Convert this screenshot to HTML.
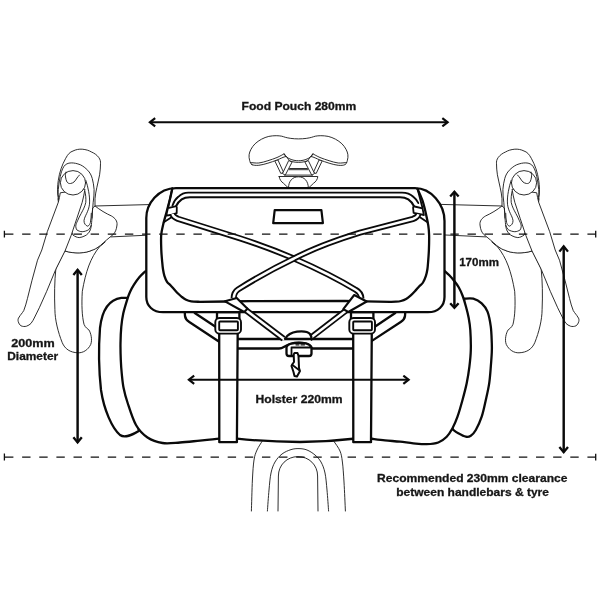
<!DOCTYPE html>
<html lang="en">
<head>
<meta charset="utf-8">
<title>Handlebar bag dimensions</title>
<style>
html,body{margin:0;padding:0;background:#fff;}
body{width:600px;height:600px;overflow:hidden;}
svg{display:block;will-change:transform;opacity:0.999;}
text{font-family:"Liberation Sans",sans-serif;font-weight:bold;fill:#161616;stroke:#161616;stroke-width:0.28;}
.k{fill:none;stroke:#0a0a0a;stroke-width:2.3;stroke-linecap:round;stroke-linejoin:round;}
.kw{fill:#fff;stroke:#0a0a0a;stroke-width:2.3;stroke-linecap:round;stroke-linejoin:round;}
.m{fill:none;stroke:#0a0a0a;stroke-width:1.8;stroke-linecap:round;stroke-linejoin:round;}
.mw{fill:#fff;stroke:#0a0a0a;stroke-width:1.8;stroke-linecap:round;stroke-linejoin:round;}
.t{fill:none;stroke:#1c1c1c;stroke-width:0.92;stroke-linecap:round;stroke-linejoin:round;}
.tw{fill:#fff;stroke:#1c1c1c;stroke-width:0.92;stroke-linecap:round;stroke-linejoin:round;}
.a{fill:none;stroke:#0a0a0a;stroke-width:2.35;stroke-linecap:butt;stroke-linejoin:miter;stroke-miterlimit:10;}
.ah{stroke-width:2.3;}
.d{fill:none;stroke:#111;stroke-width:1.45;stroke-dasharray:8.4 8.73;}
.co{fill:none;stroke:#0a0a0a;stroke-width:6.1;stroke-linecap:butt;stroke-linejoin:round;}
.ci{fill:none;stroke:#fff;stroke-width:2.5;stroke-linecap:butt;stroke-linejoin:round;}
</style>
</head>
<body>
<svg width="600" height="600" viewBox="0 0 600 600">
<rect width="600" height="600" fill="#fff"/>

<!-- FORK -->
<g id="fork" class="t">
<path d="M262 441.5 C261.17 442.92 258.33 446.92 257 450 C255.67 453.08 254.77 455.00 254 460 C253.23 465.00 252.83 471.50 252.4 480 C251.97 488.50 251.57 505.83 251.4 511"/>
<path d="M334 441.5 C335.00 443.08 338.60 447.58 340 451 C341.40 454.42 341.73 456.83 342.4 462 C343.07 467.17 343.50 473.83 344 482 C344.50 490.17 345.17 506.17 345.4 511"/>
<path d="M267.4 511 C267.67 507.50 268.40 496.33 269 490 C269.60 483.67 270.00 477.67 271 473 C272.00 468.33 273.17 465.17 275 462 C276.83 458.83 279.33 456.07 282 454 C284.67 451.93 288.17 450.50 291 449.6 C293.83 448.70 296.33 448.53 299 448.6 C301.67 448.67 304.33 448.93 307 450 C309.67 451.07 312.67 453.00 315 455 C317.33 457.00 319.33 459.00 321 462 C322.67 465.00 324.00 468.33 325 473 C326.00 477.67 326.40 483.67 327 490 C327.60 496.33 328.33 507.50 328.6 511"/>
<path d="M278 511 L278.400 476 C278.400 465 287 456.600 298 456.600 C309 456.600 317.600 465 317.600 476 L318 511"/>
</g>
<!-- LEVERS -->
<g id="leverL">
<path class="t" d="M95 206 L160 204.300 M111 236.900 L160 234.600"/>
<!-- drop bar -->
<path class="tw" d="M65 251 C72 253 84 254 92.500 250 C99 247 103 244 105.300 241.800 L99.800 246.400 C90.200 258 85.700 272 82.300 291.300 C81.500 305 82 316 84 324.300 C85.500 328 88 329 88.800 329.800 C91 333 92.500 340 90.700 344.500 C88 350 83 353 78 352.800 C70 352.500 65 349 62.250 342.700 C58 332 55 320 54.900 309.700 C54.300 295 54.500 282 55.800 269.300 Z"/>
<!-- hood body -->
<path class="tw" d="M95 206 C100 210 106 213.500 111.500 216 C115 218 117.500 221 117 225 C116.500 230 115 232.500 113.300 234.400 C109 238 104 242 100.500 245.400 C97 248 94 250 92.500 250 C86 253.500 74 254 65 251 L58 199 Z"/>
<!-- outer hood -->
<path class="tw" d="M58.300 198.700 C57 192 57.500 186 58.300 180.300 C59.500 172 62 165 65.700 158.300 C68 154 70 152 73 151 C76 149.500 79 149 82.200 149.200 C86 149.500 89 150.500 91.300 151.900 C94 153 97 155 98.700 157.400 C100.300 159.500 100.700 161.500 100.500 163.800 C100.500 167 100.200 171 99.600 174.800 C98.800 179 97.800 183 96.800 187.700 C96 191 95.300 195 95 198.700 L95 206 L92.600 208 L92 218 C91.500 225 91 228 90.300 230 C89 233 87 234.800 85 235.800 C83 236.800 81 237.500 79.200 237.600 C77 237.500 75 236.500 73.300 235.300 Z"/>
<path class="t" d="M59.250 200.500 C58 196 58 193 58.300 189.500 C58.600 185 59.300 181 60.200 176.700 C61 173 62 169.500 63.800 166.600 C65.500 164 68 163 71.200 162.900 C74 162.800 77 163.500 80.300 164.750 C83 166 85.500 168 87.700 170.250 C89.800 172.500 91.300 175 92.250 178.500 C93.200 182 93.800 185.500 94.100 189.500 C94.200 194 93.800 198 93.200 202.300 C92.900 206 92.600 209.500 92.250 213.300 L92 218"/>
<path class="t" d="M85.800 180.300 C87 184 88 187.500 88.600 191.300 C89.500 196 89.800 200 89.500 204.200 C89 208 88 210.500 86.750 213.300 C85.500 216 84.300 218 84 220.700 C84 223.500 85.500 225.500 87.700 226.200 C89.300 225.500 90 224 90.400 222.500 C91 219.500 91.200 216.500 91.300 213.300"/>
<path class="t" d="M84.900 191.300 C85.800 195 86 198.500 85.800 202.300 C85 206.500 83 210 81.250 213.300 C79.800 216 78.500 218.300 77.600 220.700 C76.500 223 75.800 224.500 75.750 226.200 C75.800 227.500 76.200 228.800 76.700 229.800 C78.500 231 80.300 231.700 82.200 231.700 C84.500 231.600 86.800 230.800 88.600 229.800 C89.800 228.500 90.700 227 91.300 225.250"/>
<!-- lever blade -->
<path class="tw" d="M60.200 193.200 C59.800 196 59.200 199 58.300 202.300 L52.800 217 L47.300 231.700 L41.800 250 L37.500 260.200 L32 280.300 L27.400 298.700 C26.300 303 25.200 307 23.750 310.600 C22 313.500 20.300 315 19.200 317 C18 318.500 17.800 320 18.250 321.600 C18.800 323.500 19.700 325 21 325.800 C22.800 326.600 24.700 326.700 26.500 326.200 C28.300 325.600 29.800 324.600 31 323.400 C32.500 321.500 33.700 319.300 34.750 317 L39.300 307.800 L46.700 291.300 L55.800 269.300 L65 251 L71.200 235.300 L76.700 218.800 L82.200 202.300 C83.300 198 84.200 194 84.900 189.500 Z"/>
<ellipse class="tw" cx="73" cy="182.800" rx="12.600" ry="12.200"/>
<path class="t" d="M66 172 C65.400 174 65.300 175.500 65.500 177 C65.800 179 66.300 180.700 67 182 C68 183.300 69.200 183.700 70.500 183.500 C71.800 183.300 73 182.800 74 182 C75.200 180.800 76.200 179.400 77 178 C77.800 177 78.700 175.800 79.500 175"/>
</g>
<g id="leverR" transform="translate(597,0) scale(-1,1)">
<path class="t" d="M95 206 L160 204.300 M111 236.900 L160 234.600"/>
<!-- drop bar -->
<path class="tw" d="M65 251 C72 253 84 254 92.500 250 C99 247 103 244 105.300 241.800 L99.800 246.400 C90.200 258 85.700 272 82.300 291.300 C81.500 305 82 316 84 324.300 C85.500 328 88 329 88.800 329.800 C91 333 92.500 340 90.700 344.500 C88 350 83 353 78 352.800 C70 352.500 65 349 62.250 342.700 C58 332 55 320 54.900 309.700 C54.300 295 54.500 282 55.800 269.300 Z"/>
<!-- hood body -->
<path class="tw" d="M95 206 C100 210 106 213.500 111.500 216 C115 218 117.500 221 117 225 C116.500 230 115 232.500 113.300 234.400 C109 238 104 242 100.500 245.400 C97 248 94 250 92.500 250 C86 253.500 74 254 65 251 L58 199 Z"/>
<!-- outer hood -->
<path class="tw" d="M58.300 198.700 C57 192 57.500 186 58.300 180.300 C59.500 172 62 165 65.700 158.300 C68 154 70 152 73 151 C76 149.500 79 149 82.200 149.200 C86 149.500 89 150.500 91.300 151.900 C94 153 97 155 98.700 157.400 C100.300 159.500 100.700 161.500 100.500 163.800 C100.500 167 100.200 171 99.600 174.800 C98.800 179 97.800 183 96.800 187.700 C96 191 95.300 195 95 198.700 L95 206 L92.600 208 L92 218 C91.500 225 91 228 90.300 230 C89 233 87 234.800 85 235.800 C83 236.800 81 237.500 79.200 237.600 C77 237.500 75 236.500 73.300 235.300 Z"/>
<path class="t" d="M59.250 200.500 C58 196 58 193 58.300 189.500 C58.600 185 59.300 181 60.200 176.700 C61 173 62 169.500 63.800 166.600 C65.500 164 68 163 71.200 162.900 C74 162.800 77 163.500 80.300 164.750 C83 166 85.500 168 87.700 170.250 C89.800 172.500 91.300 175 92.250 178.500 C93.200 182 93.800 185.500 94.100 189.500 C94.200 194 93.800 198 93.200 202.300 C92.900 206 92.600 209.500 92.250 213.300 L92 218"/>
<path class="t" d="M85.800 180.300 C87 184 88 187.500 88.600 191.300 C89.500 196 89.800 200 89.500 204.200 C89 208 88 210.500 86.750 213.300 C85.500 216 84.300 218 84 220.700 C84 223.500 85.500 225.500 87.700 226.200 C89.300 225.500 90 224 90.400 222.500 C91 219.500 91.200 216.500 91.300 213.300"/>
<path class="t" d="M84.900 191.300 C85.800 195 86 198.500 85.800 202.300 C85 206.500 83 210 81.250 213.300 C79.800 216 78.500 218.300 77.600 220.700 C76.500 223 75.800 224.500 75.750 226.200 C75.800 227.500 76.200 228.800 76.700 229.800 C78.500 231 80.300 231.700 82.200 231.700 C84.500 231.600 86.800 230.800 88.600 229.800 C89.800 228.500 90.700 227 91.300 225.250"/>
<!-- lever blade -->
<path class="tw" d="M60.200 193.200 C59.800 196 59.200 199 58.300 202.300 L52.800 217 L47.300 231.700 L41.800 250 L37.500 260.200 L32 280.300 L27.400 298.700 C26.300 303 25.200 307 23.750 310.600 C22 313.500 20.300 315 19.200 317 C18 318.500 17.800 320 18.250 321.600 C18.800 323.500 19.700 325 21 325.800 C22.800 326.600 24.700 326.700 26.500 326.200 C28.300 325.600 29.800 324.600 31 323.400 C32.500 321.500 33.700 319.300 34.750 317 L39.300 307.800 L46.700 291.300 L55.800 269.300 L65 251 L71.200 235.300 L76.700 218.800 L82.200 202.300 C83.300 198 84.200 194 84.900 189.500 Z"/>
<ellipse class="tw" cx="73" cy="182.800" rx="12.600" ry="12.200"/>
<path class="t" d="M66 172 C65.400 174 65.300 175.500 65.500 177 C65.800 179 66.300 180.700 67 182 C68 183.300 69.200 183.700 70.500 183.500 C71.800 183.300 73 182.800 74 182 C75.200 180.800 76.200 179.400 77 178 C77.800 177 78.700 175.800 79.500 175"/>
</g>

<!-- SADDLE -->
<g id="saddle" class="t">
<path class="tw" d="M279.200 176.500 L317.800 176.500 C317.500 179.500 316 181.500 313.400 183.400 C311.500 185.200 310.200 186.500 309 187.500 L288 187.500 C286.800 186.500 285.500 185.200 283.600 183.400 C281 181.500 279.500 179.500 279.200 176.500 Z"/>
<path class="tw" d="M288.500 187.600 C288.600 181 292.500 176.800 298.400 176.800 C304.300 176.800 308.200 181 308.350 187.600 Z"/>
<path d="M289.600 168.500 H307.400 M289.200 169.700 H307.800 M284.500 175.100 H312.500"/>
<path class="tw" d="M274.800 160.850 L280.850 173.500 L283.600 172.400 L278.100 160.300 Z M322.200 160.850 L316.150 173.500 L313.400 172.400 L318.900 160.300 Z"/>
<path class="tw" d="M288.550 160.850 L282.500 173.500 L285.250 175.150 L291.850 162.500 Z M308.450 160.850 L314.500 173.500 L311.750 175.150 L305.150 162.500 Z"/>
<path class="tw" d="M251.9 164.6 C250.38 163.76 250.07 161.89 249.6 160.25 C249.13 158.61 248.87 156.58 249.1 154.75 C249.33 152.92 250.00 151.08 251 149.25 C252.00 147.42 253.35 145.43 255.1 143.75 C256.85 142.07 259.22 140.42 261.5 139.2 C263.78 137.97 266.35 136.98 268.8 136.4 C271.25 135.82 274.05 135.73 276.2 135.7 C278.35 135.67 280.18 135.93 281.7 136.2 C283.22 136.47 283.78 136.93 285.3 137.3 C286.82 137.67 288.60 138.13 290.8 138.4 C293.00 138.67 295.93 138.90 298.5 138.9 C301.07 138.90 304.00 138.67 306.2 138.4 C308.40 138.13 310.18 137.67 311.7 137.3 C313.22 136.93 313.78 136.47 315.3 136.2 C316.82 135.93 318.65 135.67 320.8 135.7 C322.95 135.73 325.75 135.82 328.2 136.4 C330.65 136.98 333.22 137.97 335.5 139.2 C337.78 140.42 340.15 142.07 341.9 143.75 C343.65 145.43 345.00 147.42 346 149.25 C347.00 151.08 347.67 152.92 347.9 154.75 C348.13 156.58 347.87 158.61 347.4 160.25 C346.93 161.89 346.62 163.76 345.1 164.6 C343.58 165.44 340.92 165.53 338.25 165.3 C335.58 165.07 332.14 164.08 329.1 163.2 C326.06 162.32 322.98 161.10 320 160 C317.02 158.90 313.12 156.65 311.2 156.6 C309.28 156.55 309.53 158.87 308.5 159.7 C307.47 160.53 306.67 161.15 305 161.6 C303.33 162.05 300.67 162.40 298.5 162.4 C296.33 162.40 293.67 162.05 292 161.6 C290.33 161.15 289.53 160.53 288.5 159.7 C287.47 158.87 287.72 156.55 285.8 156.6 C283.88 156.65 279.98 158.90 277 160 C274.02 161.10 270.94 162.32 267.9 163.2 C264.86 164.08 261.42 165.07 258.75 165.3 C256.08 165.53 253.43 165.44 251.9 164.6 Z"/>
<path d="M250.5 162.5 C251.88 162.58 255.85 163.30 258.75 163 C261.65 162.70 264.86 161.62 267.9 160.7 C270.94 159.78 274.28 158.65 277 157.5 C279.72 156.35 283.00 154.42 284.2 153.8 L285.8 156.6"/>
<path d="M346.5 162.5 C345.12 162.58 341.15 163.30 338.25 163 C335.35 162.70 332.14 161.62 329.1 160.7 C326.06 159.78 322.72 158.65 320 157.5 C317.28 156.35 314.00 154.42 312.8 153.8 L311.2 156.6"/>
<path d="M284.2 153.8 C284.58 154.33 285.53 156.13 286.5 157 C287.47 157.87 288.75 158.45 290 159 C291.25 159.55 292.58 160.01 294 160.3 C295.42 160.59 297.00 160.75 298.5 160.75 C300.00 160.75 301.58 160.59 303 160.3 C304.42 160.01 305.75 159.55 307 159 C308.25 158.45 309.53 157.87 310.5 157 C311.47 156.13 312.42 154.33 312.8 153.8"/>
</g>

<!-- HOLSTER / DRY BAG -->
<g id="holster">
<path class="kw" d="M128 297.800 L121.300 297.800 C109 299.500 102 310 100 328 C98.500 348 99 372 101 390 C104 410 112 428 120 435 C125 438.500 132 435 138.750 431 Z"/>
<path class="kw" d="M464.2 298.7 C465.72 298.70 470.38 297.93 473.3 298.7 C476.22 299.47 479.33 301.13 481.7 303.3 C484.07 305.47 485.98 307.80 487.5 311.7 C489.02 315.60 490.08 321.43 490.8 326.7 C491.52 331.97 491.63 339.08 491.8 343.3 C491.97 347.52 491.97 348.10 491.8 352 C491.63 355.90 491.23 361.48 490.8 366.7 C490.37 371.92 490.03 377.75 489.2 383.3 C488.37 388.85 487.05 394.43 485.8 400 C484.55 405.57 483.37 411.70 481.7 416.7 C480.03 421.70 477.62 426.82 475.8 430 C473.98 433.18 472.47 434.68 470.8 435.8 C469.13 436.92 467.88 437.12 465.8 436.7 C463.72 436.28 460.52 434.55 458.3 433.3 C456.08 432.05 453.47 429.88 452.5 429.2 Z"/>
<path class="kw" d="M145.3 271.3 C144.30 272.30 141.18 275.07 139.3 277.3 C137.42 279.53 135.55 282.25 134 284.7 C132.45 287.15 131.12 289.57 130 292 C128.88 294.43 128.42 295.75 127.3 299.3 C126.18 302.85 124.30 308.73 123.3 313.3 C122.30 317.87 121.77 321.70 121.3 326.7 C120.83 331.70 120.58 337.75 120.5 343.3 C120.42 348.85 120.58 354.88 120.8 360 C121.02 365.12 121.33 369.33 121.8 374 C122.27 378.67 122.65 383.25 123.6 388 C124.55 392.75 125.43 396.33 127.5 402.5 C129.57 408.67 132.67 419.17 136 425 C139.33 430.83 143.08 434.50 147.5 437.5 C151.92 440.50 157.08 442.17 162.5 443 C167.92 443.83 173.75 442.90 180 442.5 C186.25 442.10 193.47 441.23 200 440.6 C206.53 439.98 216.00 439.06 219.200 438.600 L237 438.600 C262 441.300 280 442 300 442 C320 442 335 441 353.200 438.750 L371.900 438.750 C374.08 439.01 380.32 439.81 385 440.3 C389.68 440.79 395.28 441.20 400 441.7 C404.72 442.20 408.85 442.88 413.3 443.3 C417.75 443.72 422.53 444.33 426.7 444.2 C430.87 444.07 434.97 443.75 438.3 442.5 C441.63 441.25 444.33 439.07 446.7 436.7 C449.07 434.33 450.70 431.63 452.5 428.3 C454.30 424.97 455.83 421.42 457.5 416.7 C459.17 411.98 460.97 405.57 462.5 400 C464.03 394.43 465.55 388.85 466.7 383.3 C467.85 377.75 468.72 372.25 469.4 366.7 C470.08 361.15 470.65 356.12 470.8 350 C470.95 343.88 470.65 335.33 470.3 330 C469.95 324.67 469.42 321.88 468.7 318 C467.98 314.12 467.00 310.37 466 306.7 C465.00 303.03 463.92 299.23 462.7 296 C461.48 292.77 460.15 289.85 458.7 287.3 C457.25 284.75 455.57 282.70 454 280.7 C452.43 278.70 450.85 276.92 449.3 275.3 C447.75 273.68 445.47 271.72 444.7 271 Z"/>
<!-- harness frame -->
<path class="k" d="M184.750 312.300 L185 316 C185.300 318.500 187 320.500 189.300 322 L219.200 341.800 M194.750 313 L215.500 326.700"/>
<path class="k" d="M405.250 312.300 L405 316 C404.700 318.500 403 320.500 400.700 322 L371.900 340.900 M395.250 313 L374.800 326.700"/>
<path class="k" d="M237.900 339 H353.200"/>
<path class="k" d="M237.900 348.500 H279 C283 348.500 285 345.500 290 344 C295 342.600 303 342.600 307 344 C310 345.200 311.500 346.800 312 348.500 H353.200"/>
<!-- straps -->
<path class="kw" d="M217 312.200 V319 H239.400 V312.200 Z"/>
<path class="kw" d="M351 312.200 V319 H373.400 V312.200 Z"/>
<path class="kw" d="M219.200 330 L219.300 442.200 H236.900 L237.700 330 Z"/>
<path class="kw" d="M353.200 330 L353.300 442.200 H371 L371.800 330 Z"/>
<rect class="kw" style="stroke-width:1.9" x="215.300" y="318" width="25.700" height="15.600" rx="4.200"/>
<rect class="kw" style="stroke-width:1.9" x="219.200" y="321.500" width="18.700" height="8.800" rx="0.800"/>
<rect class="kw" style="stroke-width:1.9" x="349.300" y="318" width="25.700" height="15.600" rx="4.200"/>
<rect class="kw" style="stroke-width:1.9" x="353.200" y="321.500" width="18.700" height="8.800" rx="0.800"/>
</g>

<!-- POUCH -->
<g id="pouch">
<path class="kw" d="M176 188.100 L415 188.100 C431 188.100 444.500 204 444.500 221 L444.500 297 C444.500 306 438 312.200 428 312.200 L163 312.200 C153 312.200 146.300 306 146.300 297 L146.300 218 C146.300 204 158 188.100 176 188.100 Z"/>
<!-- front panel -->
<path class="k" d="M172.3 188.5 C171.92 190.25 170.93 195.17 170 199 C169.07 202.83 167.82 207.33 166.7 211.5 C165.58 215.67 164.22 220.08 163.3 224 C162.38 227.92 161.53 230.67 161.2 235 C160.87 239.33 161.13 245.50 161.3 250 C161.47 254.50 161.92 258.78 162.2 262 C162.48 265.22 162.63 266.98 163 269.3 C163.37 271.62 163.73 273.82 164.4 275.9 C165.07 277.98 165.95 280.20 167 281.8 C168.05 283.40 169.48 284.22 170.7 285.5 C171.92 286.78 173.08 288.17 174.3 289.5 C175.52 290.83 176.77 292.28 178 293.5 C179.23 294.72 180.35 295.75 181.7 296.8 C183.05 297.85 184.52 299.03 186.1 299.8 C187.68 300.57 188.88 301.07 191.2 301.4 C193.52 301.73 198.53 301.73 200 301.8 L226 301.5 L250 301.2 L345 300.9 L366 301.4 L390 301.8  C390.98 301.78 394.07 301.83 395.9 301.7 C397.73 301.57 399.30 301.45 401 301 C402.70 300.55 404.52 299.88 406.1 299 C407.68 298.12 409.03 296.98 410.5 295.7 C411.97 294.42 413.43 292.88 414.9 291.3 C416.37 289.72 417.95 287.67 419.3 286.2 C420.65 284.73 421.90 284.22 423 282.5 C424.10 280.78 425.17 278.10 425.9 275.9 C426.63 273.70 427.03 271.62 427.4 269.3 C427.77 266.98 427.85 265.22 428.1 262 C428.35 258.78 428.73 254.50 428.9 250 C429.07 245.50 429.20 239.05 429.1 235 C429.00 230.95 428.85 229.33 428.3 225.7 C427.75 222.07 426.77 217.37 425.8 213.2 C424.83 209.03 423.88 204.73 422.5 200.7 C421.12 196.67 418.33 190.95 417.5 189"/>
<path class="m" d="M172.300 188.500 L167.900 208 M417.500 188.800 L422.500 208"/>
<!-- lid rim -->
<path class="m" style="stroke-width:1.9" d="M172.500 205.500 C174 201 176 198.600 178.300 196.800 C181 194.100 184.500 192.600 188.300 192.600 L402 192.600 C406.700 192.600 410.500 194.100 413.300 196.800 C415.500 198.600 417.300 200.500 418.300 203"/>
<path class="k" style="stroke-width:2.1" d="M176 206.300 C177.500 203.300 179.500 200.900 181.700 199.400 C184 197.800 187 197.200 190 197.200 L400 197.200 C403 197.200 405.800 197.800 408.300 199.400 C410.500 200.900 412.500 203.300 414 206.300"/>
<!-- label -->
<path class="k" style="stroke-width:2.2" d="M274.700 210.100 L321.400 210.100 L322.900 223.200 L273.200 223.200 Z"/>
<!-- tabs -->
<path class="mw" d="M167.900 208.200 L175.300 206.300 Q176.800 206.200 176.800 207.600 L176.700 213.200 L170.500 215 L166.250 215.600 Z"/>
<path class="mw" d="M422.500 208.400 L414.600 206.500 Q413.100 206.400 413.100 207.800 L413.600 212.800 L420 214.200 L423.900 215 Z"/>
<path class="m" d="M163.750 222.300 L171.500 217.300 M427.500 222.300 L420 217.300"/>
</g>

<!-- CORDS -->
<g id="cords">
<!-- A: upper-left to lower-right hook -->
<path class="co" d="M172.500 214 C173 216.200 175 217.600 178 218.800 L240 238.300 C262 245.500 280 252.500 294 258.500 C318 269 338 279 356 290 C359.500 292 361.300 294.500 361.400 298.500"/>
<path class="ci" d="M172.500 214 C173 216.200 175 217.600 178 218.800 L240 238.300 C262 245.500 280 252.500 294 258.500 C318 269 338 279 356 290 C359.500 292 361.300 294.500 361.400 299.500"/>
<!-- B: upper-right to lower-left hook -->
<path class="co" d="M418.300 214.300 C417.800 216.500 415.800 218 412.800 219 L360 232.600 C336 240 312 249 294 258.500 C272 269 254 279.500 238 289.500 C235 291.500 233.800 294 233.700 298"/>
<path class="ci" d="M418.300 214.300 C417.800 216.500 415.800 218 412.800 219 L360 232.600 C336 240 312 249 294 258.500 C272 269 254 279.500 238 289.500 C235 291.500 233.800 294 233.700 299"/>
<!-- lower cords to centre lock -->
<path class="co" d="M245 309.500 L283.500 338.700"/>
<path class="ci" d="M244 308.700 L284.500 339.500"/>
<path class="co" d="M346.500 310.200 L309.500 338.700"/>
<path class="ci" d="M347.500 309.400 L308.500 339.500"/>
<!-- sleeves -->
<path class="kw" style="stroke-width:2.1" d="M225 301.300 L236.700 297.900 L247.500 308.750 L244.200 312 Z"/>
<path class="kw" style="stroke-width:2.1" d="M366.700 301.500 L354.200 295 L343.300 309.200 L348.300 312 Z"/>
<!-- cord lock -->
<path class="kw" d="M285 338.800 C287 335.500 291 332.500 297 331.700 C303 331 308 331.800 310 334 C311 335.500 311.500 337 311.500 338.800 Z"/>
<path class="kw" d="M286.500 347 L286.500 353.500 C286.500 355.200 287.500 356 289 356 L309 356 C310.500 356 311.500 355.200 311.500 353.500 L311.500 347.500 C310.500 345.500 308.500 344 306 343.400 C301 342.500 295 342.500 290 344 C288 344.800 287 345.800 286.500 347 Z"/>
<path class="m" d="M291.500 347.500 V354.500 M291.500 347.500 H311"/>
<path class="m" style="stroke-width:1.300" d="M296 344.800 H299 M301 344.800 H304.500"/>
<path class="kw" style="stroke-width:2" d="M293.700 354.500 L294.500 353 L297.500 353 L298.500 356 L299 368 L300 371 L297 376.500 L294.500 376 L293.500 372 L291.500 366 L292.500 364 L294 362 Z"/>
<path class="m" d="M292.500 365 L299 370"/>
</g>

<!-- DASHED LINES -->
<g id="dashes">
<path class="d" d="M5 234.100 H595.600"/>
<path class="d" d="M5 457.100 H595.600"/>
<path style="fill:none;stroke:#111;stroke-width:1.300" d="M4.400 230.800 V237.600 M595.700 230.800 V237.600 M4.400 453.600 V460.400 M595.700 453.700 V460.500"/>
</g>

<!-- ARROWS -->
<g id="arrows" class="a">
<path style="stroke-width:2.1" d="M149.87 122.3 H447.63"/><path class="ah" style="stroke-width:2.15" d="M155.17 118.15 L149.87 122.3 L155.17 126.45 M442.33 118.15 L447.63 122.3 L442.33 126.45"/>
<path style="stroke-width:2.45" d="M454.4 191.73 V307.87"/><path class="ah" d="M450.20 196.43 L454.4 191.73 L458.60 196.43 M450.20 303.17 L454.4 307.87 L458.60 303.17"/>
<path style="stroke-width:2.45" d="M77.6 269.73 V442.37"/><path class="ah" d="M73.40 274.93 L77.6 269.73 L81.80 274.93 M73.40 437.17 L77.6 442.37 L81.80 437.17"/>
<path style="stroke-width:2.45" d="M563.7 246.33 V452.27"/><path class="ah" d="M559.40 251.63 L563.7 246.33 L568.00 251.63 M559.40 446.97 L563.7 452.27 L568.00 446.97"/>
<path style="stroke-width:2.1" d="M188.87 379.7 H408.63"/><path class="ah" style="stroke-width:2.15" d="M194.17 375.55 L188.87 379.7 L194.17 383.85 M403.33 375.55 L408.63 379.7 L403.33 383.85"/>
</g>

<!-- TEXT -->
<g id="labels">
<text x="298.900" y="110.400" font-size="10.400" text-anchor="middle" textLength="114.800" lengthAdjust="spacingAndGlyphs">Food Pouch 280mm</text>
<text x="479.100" y="266.350" font-size="10.100" text-anchor="middle" textLength="39.800" lengthAdjust="spacingAndGlyphs">170mm</text>
<text x="32.950" y="347.300" font-size="10.400" text-anchor="middle" textLength="43.500" lengthAdjust="spacingAndGlyphs">200mm</text>
<text x="32.700" y="360.100" font-size="10.400" text-anchor="middle" textLength="50.900" lengthAdjust="spacingAndGlyphs">Diameter</text>
<text x="299" y="403.300" font-size="10.400" text-anchor="middle" textLength="87" lengthAdjust="spacingAndGlyphs">Holster 220mm</text>
<text x="472.250" y="482.100" font-size="10.400" text-anchor="middle" textLength="190.500" lengthAdjust="spacingAndGlyphs">Recommended 230mm clearance</text>
<text x="472.600" y="495.700" font-size="10.400" text-anchor="middle" textLength="152.700" lengthAdjust="spacingAndGlyphs">between handlebars &amp; tyre</text>
</g>
</svg>
</body>
</html>
